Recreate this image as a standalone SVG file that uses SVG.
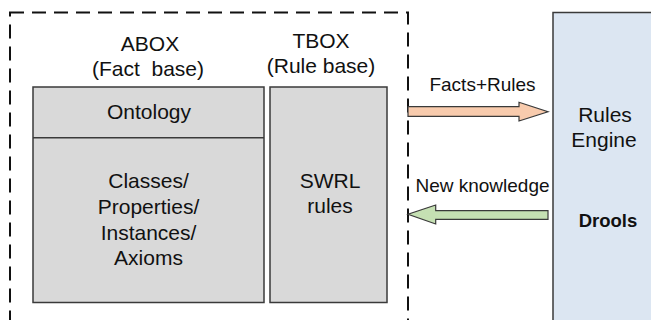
<svg xmlns="http://www.w3.org/2000/svg" width="651" height="320" viewBox="0 0 651 320">
  <style>
    text { font-family: "Liberation Sans", Arial, sans-serif; fill: #111; text-anchor: middle; }
    .big { font-size: 21px; }
    .lbl { font-size: 19px; }
    .bold { font-size: 18.5px; font-weight: bold; }
    .box { fill: #d9d9d9; stroke: #3a3a3a; stroke-width: 1.5; }
    .frame { fill: none; stroke: #111; stroke-width: 2; stroke-dasharray: 14 8; }
    .arrow { stroke: #3a3a3a; stroke-width: 1.2; stroke-linejoin: miter; }
  </style>

  <!-- knowledge base container (dashed) -->
  <g id="knowledge-base">
    <rect class="frame" x="10" y="12.5" width="398" height="330"/>
    <text class="big" x="150" y="51">ABOX</text>
    <text class="big" x="148" y="76" xml:space="preserve">(Fact  base)</text>
    <text class="big" x="321" y="48">TBOX</text>
    <text class="big" x="321" y="73">(Rule base)</text>
  </g>

  <!-- ABOX: ontology -->
  <g id="abox">
    <rect class="box" x="33" y="87" width="231" height="215.5"/>
    <line x1="33" y1="137.8" x2="264" y2="137.8" stroke="#3a3a3a" stroke-width="1.5"/>
    <text class="big" x="149" y="119">Ontology</text>
    <text class="big" x="148.5" y="188">Classes/</text>
    <text class="big" x="148.5" y="213.5">Properties/</text>
    <text class="big" x="148.5" y="239.5">Instances/</text>
    <text class="big" x="148.5" y="265">Axioms</text>
  </g>

  <!-- TBOX: SWRL rules -->
  <g id="tbox">
    <rect class="box" x="270" y="87" width="117" height="215.5"/>
    <text class="big" x="330" y="188">SWRL</text>
    <text class="big" x="330" y="213">rules</text>
  </g>

  <!-- rules engine -->
  <g id="rules-engine">
    <rect x="553" y="12.5" width="110" height="330" fill="#dce6f2" stroke="#3a3a3a" stroke-width="1.5"/>
    <text class="big" x="605" y="122">Rules</text>
    <text class="big" x="604" y="147">Engine</text>
    <text class="bold" x="608" y="226.5">Drools</text>
  </g>

  <!-- block arrows between knowledge base and engine -->
  <g id="connectors">
    <polygon class="arrow" fill="#f8cbad" points="408,106.7 519,106.7 519,102.3 548,111.7 519,121 519,116.3 408,116.3"/>
    <text class="lbl" x="482.5" y="90.5">Facts+Rules</text>
    <polygon class="arrow" fill="#c5e0b3" points="548,210.7 435.7,210.7 435.7,205 408,214.3 435.7,224 435.7,219.3 548,219.3"/>
    <text class="lbl" x="482.5" y="191.5">New knowledge</text>
  </g>
</svg>
